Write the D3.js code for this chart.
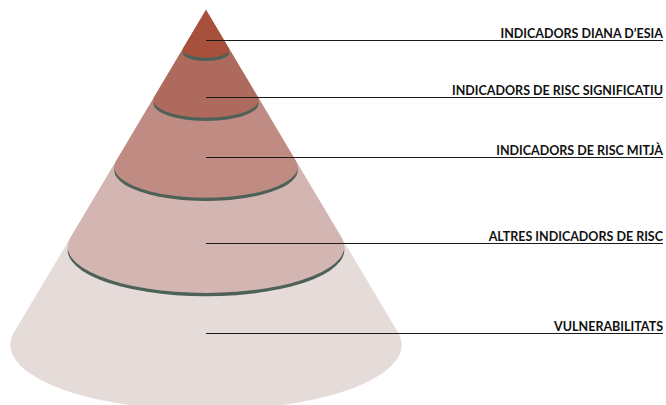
<!DOCTYPE html>
<html>
<head>
<meta charset="utf-8">
<script src="https://cdn.jsdelivr.net/npm/d3@7/dist/d3.min.js"></script>
<style>
  html, body { margin: 0; padding: 0; background: #ffffff; }
  svg { display: block; }
  .tier-label { font-family: Lato, "Open Sans", sans-serif; font-weight: bold; font-size: 12.5px; fill: #111; }
</style>
</head>
<body>
<svg id="chart" width="666" height="405"></svg>
<script>
// Tiers of the risk-indicator cone, top to bottom
const tierNames = [
  "INDICADORS DIANA D\u2019ESIA",
  "INDICADORS DE RISC SIGNIFICATIU",
  "INDICADORS DE RISC MITJ\u00C0",
  "ALTRES INDICADORS DE RISC",
  "VULNERABILITATS"
];
// Depth of each tier's lower rim, as a share of the cone's full height
const tierDepth = [0.119, 0.269, 0.469, 0.707, 1.0];
const tierColors = ["#a7513d", "#ae6b5d", "#bf8b83", "#d3b5b1", "#e5dbd9"];

// Layout
const apexX = 206, apexY = 10, baseY = 345;
const slope = 0.584;          // half-width gained per pixel of depth
const squash = 3;             // rim ellipse: rx / ry
const rimShift = 3.3;         // thickness of the dark rim band
const rimColor = "#4d6157";
const labelRight = 663;
const labelLineOffset = [-10, -3, -10, -4, -12]; // leader line relative to rim centre

const svg = d3.select("#chart");
const y = d3.scaleLinear().domain([0, 1]).range([apexY, baseY]);

// Cone from the apex down to a rim ellipse centred at cy, shifted down by dy
function conePath(cy, dy) {
  const h = cy - apexY;
  const a = slope * h;
  const b = a / squash;
  // tangent points of the silhouette on the rim ellipse
  const ty = -b * b / h;
  const tx = a * Math.sqrt(1 - (b * b) / (h * h));
  return `M${apexX},${apexY + dy}L${apexX - tx},${cy + ty + dy}` +
         `A${a},${b} 0 1 0 ${apexX + tx},${cy + ty + dy}Z`;
}

const tiers = tierNames.map((name, i) => ({ name, i, cy: y(tierDepth[i]), color: tierColors[i] }));

// Draw from the widest tier up so each narrower one sits on top
const g = svg.append("g");
tiers.slice().reverse().forEach(t => {
  if (t.i < tiers.length - 1) {
    g.append("path").attr("d", conePath(t.cy, rimShift)).attr("fill", rimColor);
  }
  g.append("path").attr("d", conePath(t.cy, 0)).attr("fill", t.color);
});

// Leader lines and labels
const lab = svg.append("g");
tiers.forEach(t => {
  const ly = Math.round(t.cy + labelLineOffset[t.i]) + 0.5;
  lab.append("line")
    .attr("x1", apexX).attr("x2", labelRight)
    .attr("y1", ly).attr("y2", ly)
    .attr("stroke", "#1a1a1a").attr("stroke-width", 1);
  lab.append("text")
    .attr("class", "tier-label")
    .attr("x", labelRight).attr("y", ly - 3)
    .attr("text-anchor", "end")
    .text(t.name);
});
</script>
</body>
</html>
